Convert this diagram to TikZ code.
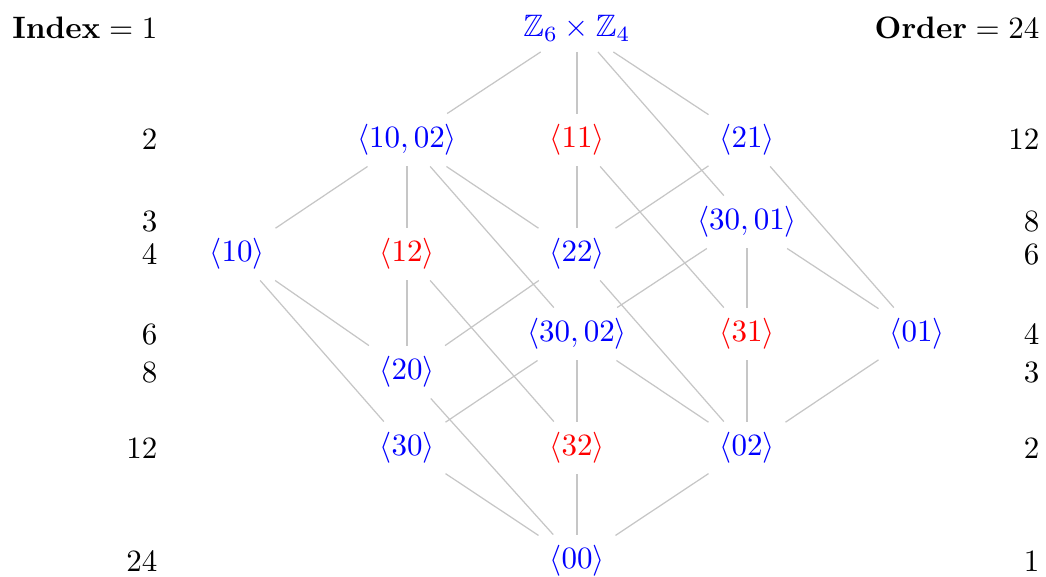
\documentclass[tikz,border=0pt]{standalone}
\usepackage{amssymb}
\usepackage{tikz}

\begin{document}
\begin{tikzpicture}[x=0.01134cm, y=-0.01134cm,
        sg/.style={blue},
        sgr/.style={red},
        lbl/.style={anchor=east, inner sep=0pt},
        cover/.style={gray!45}]
        \useasboundingbox (0,0) rectangle (1046,576);

        % Index and order columns
        \node[lbl] (i1) at (158,28) {$\textbf{Index} = 1$};
        \node[lbl] (i2) at (158,140) {$2$};
        \node[lbl] (i3) at (158,222) {$3$};
        \node[lbl] (i4) at (158,254) {$4$};
        \node[lbl] (i6) at (158,334) {$6$};
        \node[lbl] (i8) at (158,372) {$8$};
        \node[lbl] (i12) at (158,448) {$12$};
        \node[lbl] (i24) at (158,561) {$24$};

        \node[lbl] (o24) at (1040,28) {$\textbf{Order} = 24$};
        \node[lbl] (o12) at (1040,140) {$12$};
        \node[lbl] (o8) at (1040,222) {$8$};
        \node[lbl] (o6) at (1040,254) {$6$};
        \node[lbl] (o4) at (1040,334) {$4$};
        \node[lbl] (o3) at (1040,372) {$3$};
        \node[lbl] (o2) at (1040,448) {$2$};
        \node[lbl] (o1) at (1040,561) {$1$};

        % Subgroups
        \node[sg] (G) at (577,28) {$\mathbb{Z}_6\times\mathbb{Z}_4$};

        \node[sg] (h1002) at (407,140) {$\langle 10,02\rangle$};
        \node[sgr] (h11) at (577,140) {$\langle 11\rangle$};
        \node[sg] (h21) at (747,140) {$\langle 21\rangle$};

        \node[sg] (h3001) at (747,222) {$\langle 30,01\rangle$};

        \node[sg] (h10) at (237,254) {$\langle 10\rangle$};
        \node[sgr] (h12) at (407,254) {$\langle 12\rangle$};
        \node[sg] (h22) at (577,254) {$\langle 22\rangle$};

        \node[sg] (h3002) at (577,334) {$\langle 30,02\rangle$};
        \node[sgr] (h31) at (747,334) {$\langle 31\rangle$};
        \node[sg] (h01) at (917,334) {$\langle 01\rangle$};

        \node[sg] (h20) at (407,372) {$\langle 20\rangle$};

        \node[sg] (h30) at (407,448) {$\langle 30\rangle$};
        \node[sgr] (h32) at (577,448) {$\langle 32\rangle$};
        \node[sg] (h02) at (747,448) {$\langle 02\rangle$};

        \node[sg] (h00) at (577,561) {$\langle 00\rangle$};

        % Covering relations
        \draw[cover] (G) -- (h1002);
        \draw[cover] (G) -- (h11);
        \draw[cover] (G) -- (h21);
        \draw[cover] (G) -- (h3001);

        \draw[cover] (h1002) -- (h10);
        \draw[cover] (h1002) -- (h12);
        \draw[cover] (h1002) -- (h22);
        \draw[cover] (h1002) -- (h3002);
        \draw[cover] (h11) -- (h22);
        \draw[cover] (h11) -- (h31);
        \draw[cover] (h21) -- (h22);
        \draw[cover] (h21) -- (h01);

        \draw[cover] (h3001) -- (h3002);
        \draw[cover] (h3001) -- (h31);
        \draw[cover] (h3001) -- (h01);

        \draw[cover] (h10) -- (h20);
        \draw[cover] (h10) -- (h30);
        \draw[cover] (h12) -- (h20);
        \draw[cover] (h12) -- (h32);
        \draw[cover] (h22) -- (h20);
        \draw[cover] (h22) -- (h02);

        \draw[cover] (h3002) -- (h30);
        \draw[cover] (h3002) -- (h32);
        \draw[cover] (h3002) -- (h02);
        \draw[cover] (h31) -- (h02);
        \draw[cover] (h01) -- (h02);

        \draw[cover] (h20) -- (h00);
        \draw[cover] (h30) -- (h00);
        \draw[cover] (h32) -- (h00);
        \draw[cover] (h02) -- (h00);
\end{tikzpicture}
\end{document}
